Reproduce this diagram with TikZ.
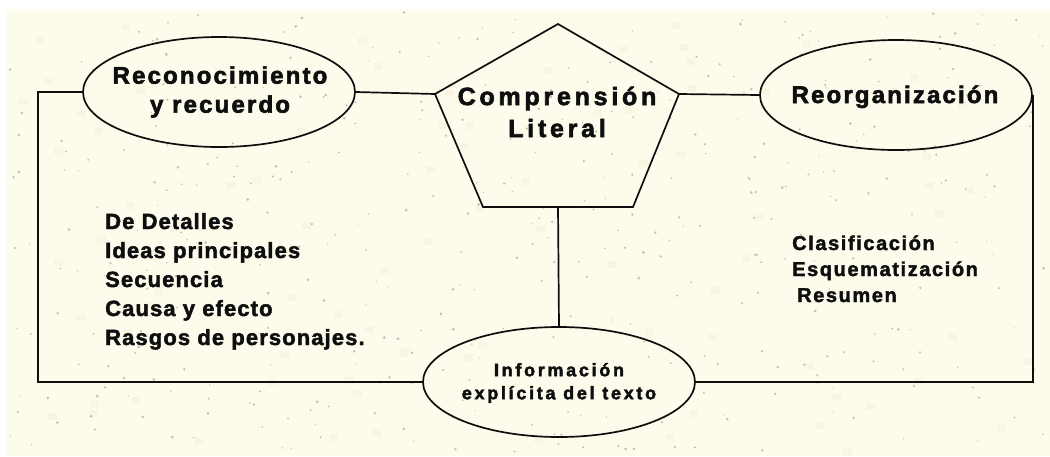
\documentclass[tikz,border=0pt]{standalone}
\usepackage{fontspec}
\setmainfont{Liberation Sans}
\newfontfamily\fEll{Liberation Sans Bold}[LetterSpace=9, FakeBold=2.4]
\newfontfamily\fPent{Liberation Sans Bold}[LetterSpace=15, FakeBold=2.4]
\newfontfamily\fInfo{Liberation Sans Bold}[LetterSpace=15, FakeBold=2.4]
\newfontfamily\fListL{Liberation Sans Bold}[LetterSpace=5, FakeBold=2]
\newfontfamily\fListR{Liberation Sans Bold}[LetterSpace=8, FakeBold=2]
\usetikzlibrary{shapes.geometric}
\definecolor{paper}{HTML}{FDFBEC}
\definecolor{ink}{HTML}{0E0E0E}
\definecolor{speck}{HTML}{C2C0B4}
\definecolor{blot}{HTML}{FAF5E2}
\begin{document}
\begin{tikzpicture}[x=1pt,y=-1pt,
  conn/.style={draw=ink, line width=1.7pt},
  ellbox/.style={ellipse, draw=ink, line width=1.7pt, minimum width=272pt, minimum height=110pt, inner sep=0pt},
  elltext/.style={inner sep=0pt, align=center, text=ink, font=\fEll\fontsize{24}{29}\selectfont},
  penttext/.style={inner sep=0pt, align=center, text=ink, font=\fPent\fontsize{25}{32}\selectfont},
  infotext/.style={inner sep=0pt, align=center, text=ink, font=\fInfo\fontsize{18}{23}\selectfont},
  listL/.style={inner sep=0pt, anchor=base west, text=ink, font=\fListL\fontsize{22}{29}\selectfont},
  listR/.style={inner sep=0pt, anchor=base west, text=ink, font=\fListR\fontsize{20}{26}\selectfont}]
\useasboundingbox (0,0) rectangle (1050,456);
\fill[white] (0,0) rectangle (1050,456);
\fill[paper] (7,9) rectangle (1050,456);
% speckle texture
\pgfmathsetseed{7}
\foreach \i in {1,...,90}{
  \pgfmathsetmacro{\sx}{15+1025*rnd}
  \pgfmathsetmacro{\sy}{15+435*rnd}
  \fill[blot] (\sx,\sy) rectangle ++(9,7);
}
\foreach \i in {1,...,420}{
  \pgfmathsetmacro{\sx}{10+1035*rnd}
  \pgfmathsetmacro{\sy}{12+440*rnd}
  \pgfmathsetmacro{\sr}{0.6+0.9*rnd}
  \fill[speck] (\sx,\sy) circle (\sr pt);
}
% pentagon
\coordinate (pT) at (558,24);
\coordinate (pR) at (679,94);
\coordinate (pBR) at (633,207);
\coordinate (pBL) at (483,207);
\coordinate (pL) at (435,94);
\coordinate (pB) at (558,207);
\draw[conn, line join=miter] (pT) -- (pR) -- (pBR) -- (pBL) -- (pL) -- cycle;
\node[penttext] (cl) at (557,112) {Comprensión\\Literal};
% ellipses
\node[ellbox] (e1) at (219,92) {};
\node[elltext] (t1) at (220,92) {Reconocimiento\\y recuerdo};
\node[ellbox] (e2) at (896,95) {};
\node[elltext, anchor=base] (t2) at (895,103) {Reorganización};
\node[ellbox] (e3) at (559,382) {};
\node[infotext] (t3) at (559,383) {Información\\explícita del texto};
% connectors
\coordinate (cL) at (38,200);
\draw[conn] (e1.west) -| (cL) |- (e3.west);
\draw[conn] (e2.east) |- (e3.east);
\draw[conn] (e1.east) -- (pL);
\draw[conn] (pR) -- (e2.west);
\draw[conn] (pB) -- (e3.north);
% lists
\node[listL] (l1) at (105,229) {De Detalles};
\node[listL] (l2) at (105,258) {Ideas principales};
\node[listL] (l3) at (105,287) {Secuencia};
\node[listL] (l4) at (105,316) {Causa y efecto};
\node[listL] (l5) at (105,345) {Rasgos de personajes.};
\node[listR] (r1) at (792,250) {Clasificación};
\node[listR] (r2) at (792,276) {Esquematización};
\node[listR] (r3) at (797,302) {Resumen};
\end{tikzpicture}
\end{document}
